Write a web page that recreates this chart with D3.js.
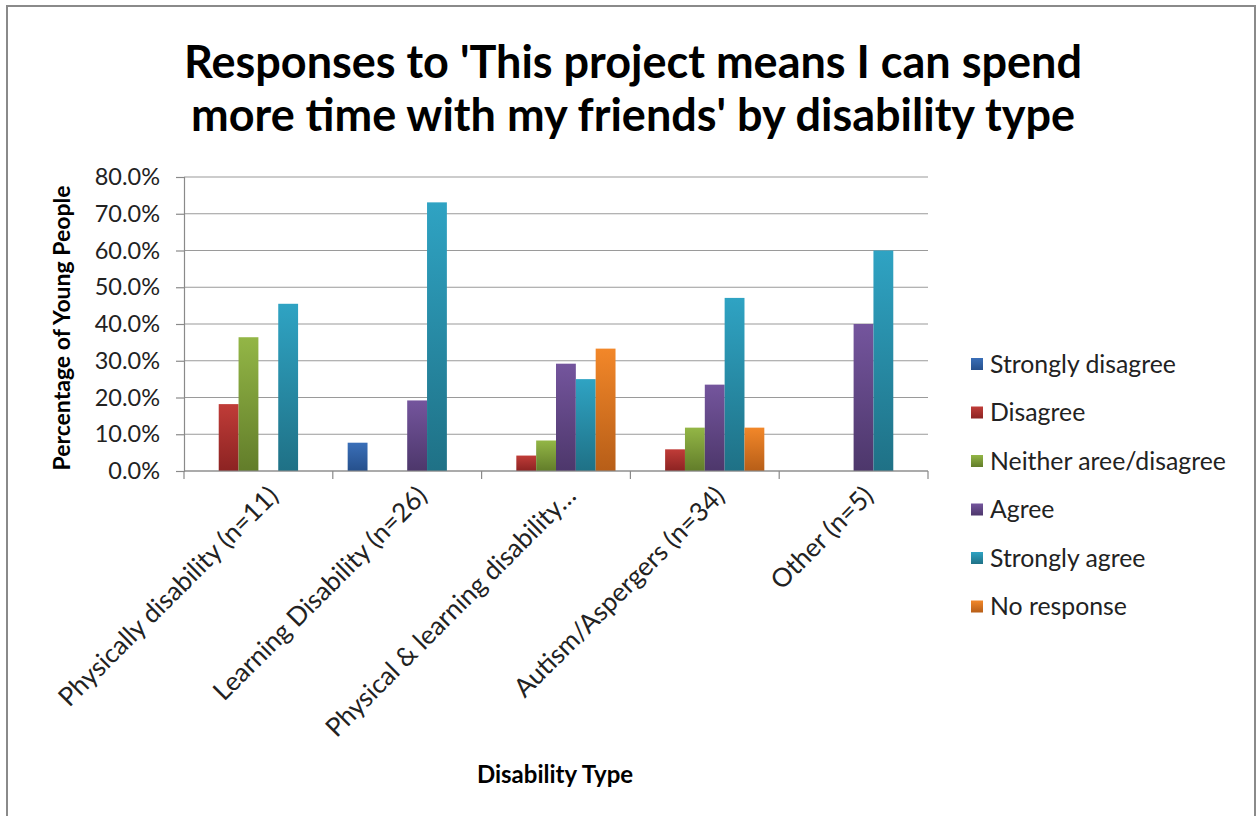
<!DOCTYPE html>
<html><head><meta charset="utf-8">
<script src="https://cdn.jsdelivr.net/npm/d3@7"></script>
<style>
html,body{margin:0;padding:0;background:#fff;}
svg{display:block;font-family:Lato,"Open Sans",sans-serif;}
</style></head>
<body>
<svg id="chart" width="1256" height="816"></svg>
<script>
const categories = ["Physically disability (n=11)", "Learning Disability (n=26)", "Physical & learning disability…", "Autism/Aspergers (n=34)", "Other (n=5)"];
const seriesNames = ["Strongly disagree", "Disagree", "Neither aree/disagree", "Agree", "Strongly agree", "No response"];
const stronglyDisagree = [0, 7.7, 0, 0, 0];
const disagree = [18.2, 0, 4.2, 5.9, 0];
const neither = [36.4, 0, 8.3, 11.8, 0];
const agree = [0, 19.2, 29.2, 23.5, 40.0];
const stronglyAgree = [45.5, 73.1, 25.0, 47.1, 60.0];
const noResponse = [0, 0, 33.3, 11.8, 0];
const yTicks = [0, 10, 20, 30, 40, 50, 60, 70, 80];
const seriesValues = [stronglyDisagree, disagree, neither, agree, stronglyAgree, noResponse];
const colors = [
  ["#3a6fb8", "#26508c"],
  ["#c03c38", "#8c2322"],
  ["#93b646", "#627d2a"],
  ["#74559d", "#4d376b"],
  ["#2fa3c3", "#1f7186"],
  ["#f28729", "#b75e18"]
];

const svg = d3.select("#chart");
const defs = svg.append("defs");
colors.forEach((c, i) => {
  const g = defs.append("linearGradient").attr("id", "g" + i).attr("x1", 0).attr("y1", 0).attr("x2", 0).attr("y2", 1);
  g.append("stop").attr("offset", "0%").attr("stop-color", c[0]);
  g.append("stop").attr("offset", "100%").attr("stop-color", c[1]);
});

// outer border
svg.append("rect").attr("x", 7).attr("y", 6).attr("width", 1248).attr("height", 830)
  .attr("fill", "#fff").attr("stroke", "#8a8a8a").attr("stroke-width", 2);

const pLeft = 184, pRight = 928, pTop = 177, pBottom = 471;
const x = d3.scaleBand().domain(categories).range([pLeft, pRight]).padding(0);
const xs = d3.scaleBand().domain(seriesNames).range([0, x.bandwidth()]).paddingInner(0).paddingOuter(0.75);
const y = d3.scaleLinear().domain([0, 80]).range([pBottom, pTop]);

// gridlines
svg.append("g").selectAll("line").data(yTicks).join("line")
  .attr("x1", pLeft).attr("x2", pRight)
  .attr("y1", d => y(d)).attr("y2", d => y(d))
  .attr("stroke", "#9a9a9a").attr("stroke-width", 1.2);

// y axis
const yAxis = svg.append("g").attr("transform", `translate(${pLeft},0)`)
  .call(d3.axisLeft(y).tickValues(yTicks).tickSize(8).tickPadding(16).tickFormat(d => d.toFixed(1) + "%"));
yAxis.select(".domain").attr("stroke", "#8a8a8a").attr("stroke-width", 1.2);
yAxis.selectAll(".tick line").attr("stroke", "#8a8a8a").attr("stroke-width", 1.2);
yAxis.selectAll(".tick text").attr("font-size", 23.5).attr("fill", "#222").attr("font-family", "Lato");

// bars
const groups = svg.append("g").selectAll("g").data(categories).join("g")
  .attr("transform", d => `translate(${x(d)},0)`);
groups.selectAll("rect").data((d, ci) => seriesNames.map((s, si) => ({s, si, v: seriesValues[si][ci]})).filter(e => e.v > 0))
  .join("rect")
  .attr("x", e => xs(e.s)).attr("width", xs.bandwidth())
  .attr("y", e => y(e.v)).attr("height", e => y(0) - y(e.v))
  .attr("fill", e => `url(#g${e.si})`);

// x axis
const xAxis = svg.append("g").attr("transform", `translate(0,${pBottom})`);
xAxis.append("line").attr("x1", pLeft).attr("x2", pRight).attr("stroke", "#8a8a8a").attr("stroke-width", 1.2);
const bounds = [pLeft].concat(categories.map(c => x(c) + x.bandwidth()));
xAxis.selectAll("line.t").data(bounds).join("line").attr("class", "t")
  .attr("x1", d => d).attr("x2", d => d).attr("y1", 0).attr("y2", 8)
  .attr("stroke", "#8a8a8a").attr("stroke-width", 1.2);

// x labels
svg.append("g").selectAll("text").data(categories).join("text")
  .attr("transform", d => `translate(${x(d) + x.bandwidth() / 2 + 15},${pBottom + 20}) rotate(-45)`)
  .attr("text-anchor", "end").attr("dy", "0.35em")
  .attr("font-size", 26).attr("fill", "#222")
  .text(d => d);

// titles
const title = svg.append("text").attr("text-anchor", "middle").attr("font-weight", "bold")
  .attr("font-size", 45).attr("fill", "#000");
title.append("tspan").attr("x", 633).attr("y", 78).text("Responses to 'This project means I can spend");
title.append("tspan").attr("x", 633).attr("y", 131).text("more time with my friends' by disability type");

svg.append("text").attr("transform", "translate(62,328) rotate(-90)")
  .attr("text-anchor", "middle").attr("font-weight", "bold").attr("font-size", 23).attr("fill", "#000")
  .attr("dy", "0.35em")
  .text("Percentage of Young People");
svg.append("text").attr("x", 555).attr("y", 783)
  .attr("text-anchor", "middle").attr("font-weight", "bold").attr("font-size", 24).attr("fill", "#000")
  .text("Disability Type");

// legend
const leg = svg.append("g").selectAll("g").data(seriesNames).join("g")
  .attr("transform", (d, i) => `translate(971,${364 + i * 48.5})`);
leg.append("rect").attr("x", 0).attr("y", -6).attr("width", 12).attr("height", 12)
  .attr("fill", (d, i) => `url(#g${i})`);
leg.append("text").attr("x", 19).attr("dy", "0.35em").attr("font-size", 24.8).attr("fill", "#222").text(d => d);
</script>
</body></html>
